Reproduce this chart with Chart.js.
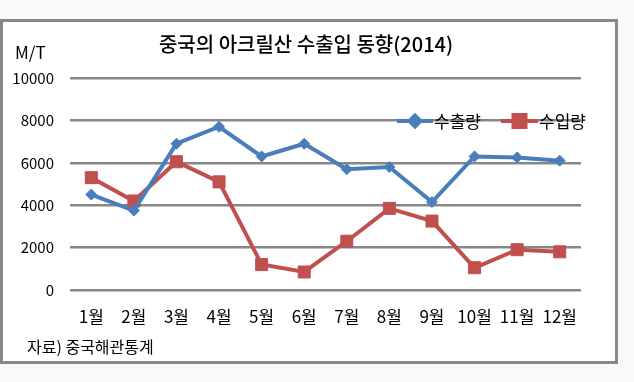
<!DOCTYPE html>
<html>
<head>
<meta charset="utf-8">
<script src="https://cdn.jsdelivr.net/npm/chart.js@4"></script>
<style>
html,body{margin:0;padding:0;background:#f9f9f9;}
#wrap{position:absolute;left:0;top:0;width:634px;height:382px;}
</style>
</head>
<body>
<div id="wrap"><canvas id="c" width="634" height="382"></canvas></div>
<script>
const months = ['1월','2월','3월','4월','5월','6월','7월','8월','9월','10월','11월','12월'];
const exportVals = [4500, 3750, 6900, 7700, 6300, 6900, 5700, 5800, 4150, 6300, 6250, 6100];
const importVals = [5300, 4200, 6050, 5100, 1200, 850, 2300, 3850, 3250, 1050, 1900, 1800];
const seriesNames = ['수출량', '수입량'];
const titleText = '중국의 아크릴산 수출입 동향(2014)';
const unitText = 'M/T';
const sourceText = '자료) 중국해관통계';

const BLUE = '#4a7ebb';
const RED = '#c0504d';
const FONT = '"Noto Sans CJK KR", "Noto Sans", sans-serif';

const decor = {
  id: 'decor',
  beforeDraw(chart) {
    const ctx = chart.ctx;
    ctx.save();
    ctx.fillStyle = '#f9f9f9';
    ctx.fillRect(0, 0, chart.width, chart.height);
    ctx.fillStyle = '#ffffff';
    ctx.fillRect(2, 21, 614, 341);
    ctx.strokeStyle = '#888888';
    ctx.lineWidth = 3;
    ctx.strokeRect(1.5, 20.5, 615, 342);
    ctx.restore();
  },
  afterDraw(chart) {
    const ctx = chart.ctx;
    ctx.save();
    ctx.fillStyle = '#000';
    ctx.textBaseline = 'middle';
    ctx.textAlign = 'center';
    ctx.font = '500 20px ' + FONT;
    ctx.fillText(titleText, 306, 44);
    ctx.textAlign = 'left';
    ctx.font = '17px ' + FONT;
    ctx.fillText(unitText, 15, 53);
    ctx.font = '16px ' + FONT;
    ctx.fillText(sourceText, 27, 347);
    // legend
    const items = [
      {name: seriesNames[0], color: BLUE, x0: 397, x1: 433, style: 'rectRot', r: 5.5, tx: 434},
      {name: seriesNames[1], color: RED, x0: 501, x1: 538, style: 'rect', r: 8.5, tx: 539}
    ];
    ctx.font = '17px ' + FONT;
    items.forEach(it => {
      const y = 121;
      ctx.strokeStyle = it.color;
      ctx.lineWidth = 4;
      ctx.beginPath();
      ctx.moveTo(it.x0, y);
      ctx.lineTo(it.x1, y);
      ctx.stroke();
      ctx.fillStyle = it.color;
      Chart.helpers.drawPoint(ctx, {pointStyle: it.style, radius: it.r, borderWidth: 1}, (it.x0 + it.x1) / 2, y);
      ctx.fill();
      ctx.fillStyle = '#000';
      ctx.fillText(it.name, it.tx, y + 1);
    });
    ctx.restore();
  }
};

new Chart(document.getElementById('c'), {
  type: 'line',
  data: {
    labels: months,
    datasets: [
      {
        label: seriesNames[0],
        data: exportVals,
        borderColor: BLUE,
        backgroundColor: BLUE,
        borderWidth: 4,
        pointStyle: 'rectRot',
        pointRadius: 5.5,
        pointBorderWidth: 1,
        tension: 0
      },
      {
        label: seriesNames[1],
        data: importVals,
        borderColor: RED,
        backgroundColor: RED,
        borderWidth: 4,
        pointStyle: 'rect',
        pointRadius: 8.5,
        pointBorderWidth: 1,
        tension: 0
      }
    ]
  },
  options: {
    responsive: false,
    animation: false,
    devicePixelRatio: 1,
    layout: {padding: {left: 0, right: 53, top: 78, bottom: 52}},
    plugins: {
      legend: {display: false},
      title: {display: false},
      tooltip: {enabled: false}
    },
    scales: {
      x: {
        offset: true,
        grid: {display: false, drawTicks: false},
        border: {display: false},
        ticks: {color: '#000', font: {family: FONT, size: 17}, padding: 16, maxRotation: 0, autoSkip: false},
        afterFit(s) { s.height = 40; }
      },
      y: {
        min: 0, max: 10000,
        grid: {color: '#878787', lineWidth: 2.5, drawTicks: false},
        border: {display: false},
        ticks: {stepSize: 2000, color: '#000', font: {family: FONT, size: 15}, padding: 16,
          callback: (v) => String(v)},
        afterFit(s) { s.width = 70; }
      }
    }
  },
  plugins: [decor]
});
</script>
</body>
</html>
